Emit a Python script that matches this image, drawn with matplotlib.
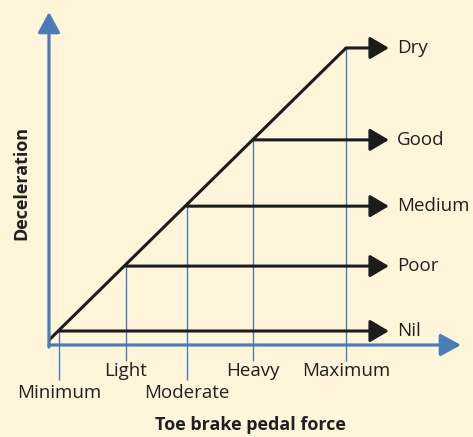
import matplotlib
matplotlib.use("Agg")
import matplotlib.pyplot as plt
from matplotlib.patches import ArrowStyle

# ---- data ----
force_labels = ["Minimum", "Light", "Moderate", "Heavy", "Maximum"]
force_values = [2.4, 18.7, 33.5, 49.5, 72.1]          # pedal force levels
friction_labels = ["Nil", "Poor", "Medium", "Good", "Dry"]
decel_values = [4.2, 23.7, 41.7, 61.6, 89.2]           # deceleration reached
line_start = (0.0, 1.5)
arrow_end_x = 82.5
label_low = [True, False, True, False, False]          # staggered tick labels

BG = "#FEF5DA"
BLUE = "#4A7DB6"
INK = "#1C1C1C"
TXT = "#231F20"

W, H = 473, 437
plt.rcParams["font.family"] = ["Open Sans", "DejaVu Sans"]
fig = plt.figure(figsize=(W / 100, H / 100), dpi=100, facecolor=BG)
# axes: origin at pixel (49,345), top-right at (461,12)
ax = fig.add_axes([49 / W, (H - 345) / H, (461 - 49) / W, (345 - 12) / H])
ax.set_xlim(0, 100)
ax.set_ylim(0, 100)
ax.axis("off")
ax.set_facecolor(BG)

# axes with arrow heads
axis_style = ArrowStyle("-|>", head_length=12.5, head_width=6.8)
ax.annotate("", xy=(100, 0), xytext=(0, 0),
            arrowprops=dict(arrowstyle=axis_style, color=BLUE, lw=2.3,
                            shrinkA=0, shrinkB=0, mutation_scale=1),
            annotation_clip=False)
ax.annotate("", xy=(0, 100), xytext=(0, -0.6),
            arrowprops=dict(arrowstyle=axis_style, color=BLUE, lw=2.3,
                            shrinkA=0, shrinkB=0, mutation_scale=1),
            annotation_clip=False)

# vertical guide lines
for fx, dy, low, lab in zip(force_values, decel_values, label_low, force_labels):
    bottom = -10.5 if low else -4.8
    ax.plot([fx, fx], [dy, bottom], color=BLUE, lw=1.0, clip_on=False,
            solid_capstyle="butt")
    ty = -14.5 if low else -7.9
    ax.text(fx, ty, lab, ha="center", va="center", fontsize=13.5, color=TXT)

# diagonal line
ax.plot([line_start[0], force_values[-1]], [line_start[1], decel_values[-1]],
        color=INK, lw=2.2, clip_on=False, solid_capstyle="butt")

# horizontal arrows
head_style = ArrowStyle("-|>", head_length=11.5, head_width=6.8)
for fx, dy, lab in zip(force_values, decel_values, friction_labels):
    ax.annotate("", xy=(arrow_end_x, dy), xytext=(fx, dy),
                arrowprops=dict(arrowstyle=head_style, color=INK, lw=2.2,
                                shrinkA=0, shrinkB=0, mutation_scale=1),
                annotation_clip=False)
    ax.text(arrow_end_x + 1.9, dy, lab, ha="left", va="center",
            fontsize=13.5, color=TXT)

# axis titles
fig.text(250 / W, 1 - 425 / H, "Toe brake pedal force", ha="center",
         va="center", fontsize=13, fontweight="bold", color=TXT)
fig.text(21 / W, 1 - 183 / H, "Deceleration", ha="center", va="center",
         rotation=90, fontsize=13, fontweight="bold", color=TXT)

fig.savefig("out.png", dpi=100, facecolor=BG)
